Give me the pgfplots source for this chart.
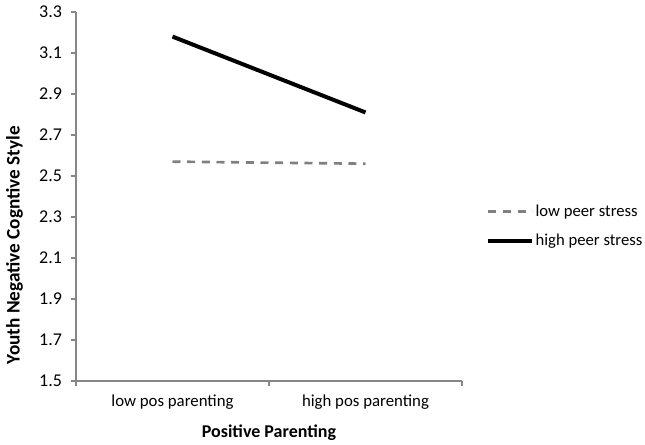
\documentclass[border=0pt]{standalone}
\usepackage{fontspec}
\setmainfont{Carlito}
\usepackage{pgfplots}
\pgfplotsset{compat=1.18}
\definecolor{axisgray}{HTML}{868686}
\definecolor{dashgray}{HTML}{808080}

\begin{document}
\begin{tikzpicture}
  \useasboundingbox (-57pt,-48pt) rectangle (426.75pt,285.75pt);
  \begin{axis}[
    at={(0,0)}, anchor=origin,
    scale only axis,
    width=289.5pt, height=276.75pt,
    xmin=0, xmax=2,
    ymin=1.5, ymax=3.3,
    ytick={1.5,1.7,...,3.31},
    yticklabel style={font=\fontsize{13.5}{15}\selectfont, xshift=-3pt,
      /pgf/number format/.cd,fixed,fixed zerofill,precision=1},
    xtick={0,1,2}, xticklabels={},
    extra x ticks={0.5,1.5},
    extra x tick labels={low pos parenting,high pos parenting},
    extra x tick style={major tick length=0pt, tick style={draw=none}},
    xticklabel style={font=\fontsize{12.6}{15}\selectfont, yshift=-7pt},
    axis lines*=left,
    axis line style={axisgray, line width=0.8pt},
    tick style={axisgray, line width=0.8pt},
    tick align=outside,
    major tick length=4pt,
    tick label style={black},
    /pgf/number format/assume math mode=true,
    xlabel={\textbf{Positive Parenting}},
    ylabel={\textbf{Youth Negative Cogntive Style}},
    xlabel style={font=\fontsize{13.5}{16}\selectfont,
      at={(axis description cs:0.5,0)}, anchor=north, yshift=-29pt},
    ylabel style={font=\fontsize{14.4}{16}\selectfont,
      at={(axis description cs:-0.159,0.368)}, anchor=center},
    legend style={at={(rel axis cs:1.052,0.42)}, anchor=west, draw=none, fill=none,
      font=\fontsize{12.5}{15}\selectfont, row sep=8pt, nodes={inner xsep=1pt}},
    legend cell align=left,
    legend image code/.code={\draw[#1] (0pt,0pt) -- (33pt,0pt);},
  ]
    \addplot[dashgray, line width=2pt, dash pattern=on 6pt off 5pt] coordinates {(0.5,2.57) (1.5,2.56)};
    \addlegendentry{low peer stress}
    \addplot[black, line width=3pt] coordinates {(0.5,3.18) (1.5,2.81)};
    \addlegendentry{high peer stress}
  \end{axis}
\end{tikzpicture}
\end{document}
